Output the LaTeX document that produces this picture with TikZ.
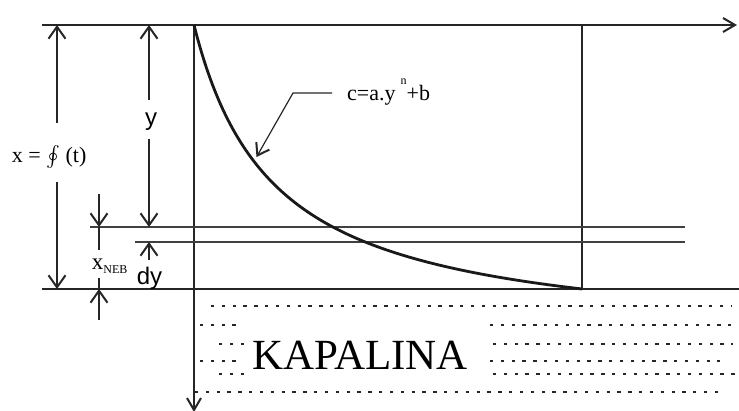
\documentclass[tikz,border=0pt]{standalone}
\usepackage{exscale}
\usepackage{fontspec}
\setmainfont{Liberation Serif}
\newfontfamily\arialf{Liberation Sans}
\usetikzlibrary{arrows.meta}
\begin{document}
\begin{tikzpicture}[x=1pt,y=-1pt,
  ln/.style={line width=1.2pt, black!85},
  dim/.style={line width=1.2pt, black!85, -{Straight Barb[length=12pt,width=17pt,line width=2pt]}},
  axarrow/.style={line width=1.2pt, black!85, -{Straight Barb[length=12pt,width=14pt,line width=2pt]}},
  liq/.style={line width=2pt, dash pattern=on 3.3pt off 7.53pt, black!85},
  serif/.style={font=\fontsize{22}{24}\selectfont, inner sep=0pt},
  sans/.style={font=\arialf\fontsize{24}{26}\selectfont, inner sep=0pt},
]
\useasboundingbox (0,0) rectangle (739,410);

% frame / axes
\coordinate (tl) at (42,25);  \coordinate (tr) at (737,25);
\coordinate (bl) at (42,289); \coordinate (br) at (739,289);
\coordinate (o) at (194,25);  \coordinate (ob) at (194,412);
\coordinate (rt) at (582,25); \coordinate (rb) at (582,289);
\coordinate (h1a) at (90,227);  \coordinate (h1b) at (685,227);
\coordinate (h2a) at (135,242); \coordinate (h2b) at (685,242);

\draw[axarrow] (tl) -- (tr);
\draw[ln] (bl) -- (br);
\draw[axarrow] (o) -- (ob);
\draw[ln] (rt) -- (rb);
\draw[ln, black!75] (h1a) -- (h1b);
\draw[ln, black!75] (h2a) -- (h2b);

% x dimension
\coordinate (xt) at (57,25);  \coordinate (xu) at (57,123);
\coordinate (xl) at (57,182); \coordinate (xb) at (57,289);
\node[serif, anchor=base west] (xlab) at (11.7,162) {x = $\textstyle\oint$ (t)};
\draw[dim] (xu) -- (xt);
\draw[dim] (xl) -- (xb);

% y dimension
\coordinate (yt) at (149,25);  \coordinate (yu) at (149,100);
\coordinate (yl) at (149,139); \coordinate (yb) at (149,227);
\node[sans, anchor=base] (ylab) at (151,125) {y};
\draw[dim] (yu) -- (yt);
\draw[dim] (yl) -- (yb);

% dy
\coordinate (dyt) at (149,242); \coordinate (dyl) at (149,260);
\draw[dim] (dyl) -- (dyt);
\node[sans, anchor=base] (dylab) at (149.5,284.5) {dy};

% x_NEB
\coordinate (n1) at (99,194); \coordinate (n2) at (99,227); \coordinate (n3) at (99,250);
\coordinate (n4) at (99,278); \coordinate (n5) at (99,289); \coordinate (n6) at (99,320);
\draw[dim] (n1) -- (n2);
\draw[ln] (n2) -- (n3);
\node[anchor=base west, inner sep=0pt] (neb) at (91.7,269.5)
  {\fontsize{23}{24}\selectfont x\raisebox{-3.8pt}{\fontsize{12}{12}\selectfont NEB}};
\draw[ln] (n4) -- (n5);
\draw[dim] (n6) -- (n5);

% curve (hyperbolic decay from (194,25) to (582,289))
\draw[line width=2.8pt, black!90, line join=round]
  plot[domain=194:582, samples=150] (\x, {343.4 - 100*(254.75/(\x-114))});

% equation label with leader
\node[serif, anchor=base west] (eq) at (347,100)
  {c=a.y\hspace{5pt}\raisebox{16pt}{\fontsize{12}{12}\selectfont n}+b};
\coordinate (l1) at (332,93); \coordinate (l2) at (293,93); \coordinate (l3) at (256.5,157);
\draw[line width=1.2pt, black!85, -{Straight Barb[length=11pt,width=15pt,line width=2pt]}]
  (l1) -- (l2) -- (l3);

% liquid
\node[anchor=base, inner sep=0pt, font=\fontsize{43}{45}\selectfont] (kap) at (360,369) {KAPALINA};
\foreach \ya/\xa/\xb in {306/211/731, 325/200/237, 325/490/731, 344/219/245, 344/493/733,
    361/200/237, 361/490/720, 374/219/245, 374/493/735, 392/195/725}
  \draw[liq] (\xa,\ya) -- (\xb,\ya);
\end{tikzpicture}
\end{document}
